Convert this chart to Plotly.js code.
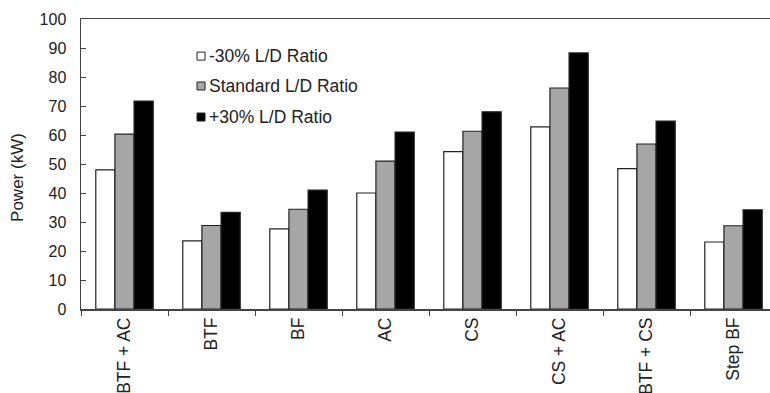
<!DOCTYPE html>
<html><head><meta charset="utf-8">
<script src="https://cdn.plot.ly/plotly-3.0.1.min.js"></script>
<style>html,body{margin:0;padding:0;overflow:hidden;background:#fff;}#chart{width:777px;height:393px;}</style>
</head><body><div id="chart"></div>
<script>
const categories = ["BTF + AC", "BTF", "BF", "AC", "CS", "CS + AC", "BTF + CS", "Step BF"];
const seriesNames = ["-30% L/D Ratio", "Standard L/D Ratio", "+30% L/D Ratio"];
const minus30 = [48.0, 23.5, 27.6, 40.0, 54.3, 62.8, 48.4, 23.1];
const standard = [60.3, 28.8, 34.4, 51.0, 61.3, 76.2, 56.9, 28.7];
const plus30 = [71.7, 33.3, 41.0, 61.0, 68.0, 88.3, 64.8, 34.2];
const yTicks = [0,10,20,30,40,50,60,70,80,90,100];

const fills = ["#ffffff", "#a6a6a6", "#000000"];
const vals = [minus30, standard, plus30];
const traces = vals.map((v, i) => ({
  type: "bar", x: categories, y: v, name: seriesNames[i],
  marker: {color: fills[i], line: {color: "#222", width: 1.2}},
  hoverinfo: "x+y"
}));

// custom legend (symbol squares + text), positioned in paper space
const legX = 0.1667, legTextX = 0.181;
const legY = [0.872, 0.769, 0.662];
const shapes = seriesNames.map((n, i) => ({
  type: "rect", xref: "paper", yref: "paper",
  xsizemode: "pixel", ysizemode: "pixel",
  xanchor: legX, yanchor: legY[i],
  x0: 0, x1: 8, y0: -4, y1: 4,
  fillcolor: fills[i], line: {color: "#222", width: 1}
}));
const annotations = seriesNames.map((n, i) => ({
  xref: "paper", yref: "paper", x: legTextX, y: legY[i],
  xanchor: "left", yanchor: "middle", showarrow: false,
  text: n, font: {size: 17.5, color: "#222"}
}));
annotations.push({
  xref: "paper", yref: "paper", x: -0.0905, y: 0.452,
  xanchor: "center", yanchor: "middle", showarrow: false, textangle: -90,
  text: "Power (kW)", font: {size: 17, color: "#222"}
});

const layout = {
  width: 777, height: 393,
  margin: {l: 81, r: 0, t: 19, b: 84},
  paper_bgcolor: "#fff", plot_bgcolor: "#fff",
  font: {family: "Liberation Sans, Arial, sans-serif", color: "#222", size: 14},
  barmode: "group", bargap: 0.34, bargroupgap: 0,
  showlegend: false,
  shapes: shapes, annotations: annotations,
  xaxis: {type: "category", range: [-0.5, 7.5], tickson: "boundaries", ticks: "outside", ticklen: 5,
          tickcolor: "#444", tickangle: -90, showline: true, linecolor: "#444", linewidth: 1.5, mirror: true,
          showgrid: false, zeroline: false, tickfont: {size: 17.5}},
  yaxis: {range: [0, 100], tickvals: yTicks, ticks: "inside", ticklen: 5, tickcolor: "#444",
          showline: true, linecolor: "#444", linewidth: 1.5, showgrid: false, zeroline: false,
          tickfont: {size: 16}, ticklabelstandoff: 10}
};
Plotly.newPlot("chart", traces, layout, {displayModeBar: false, staticPlot: true});
</script></body></html>
